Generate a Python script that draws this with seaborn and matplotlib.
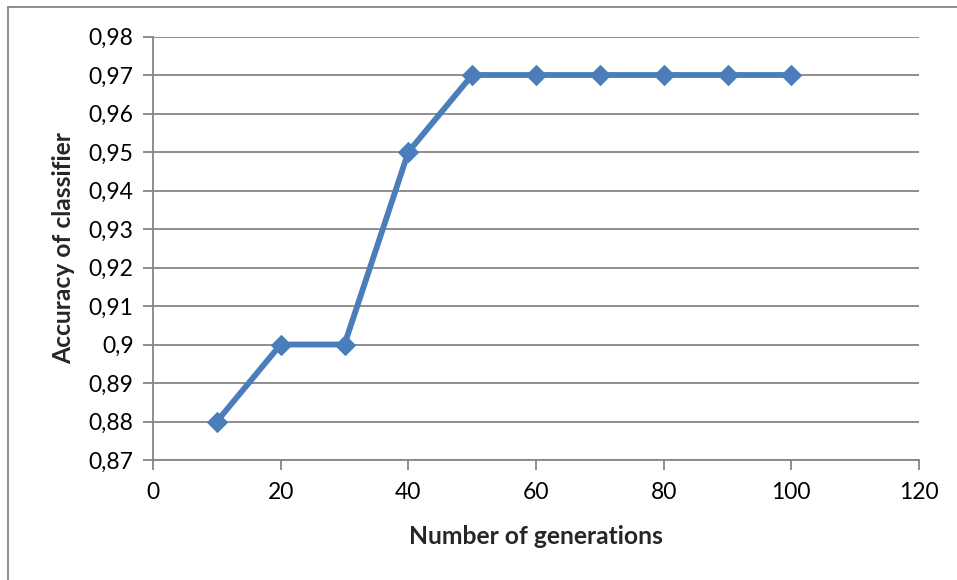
import matplotlib
matplotlib.use("Agg")
import matplotlib.pyplot as plt
from matplotlib.lines import Line2D
import seaborn as sns
import pandas as pd

generations = [10, 20, 30, 40, 50, 60, 70, 80, 90, 100]
accuracy = [0.88, 0.90, 0.90, 0.95, 0.97, 0.97, 0.97, 0.97, 0.97, 0.97]
x_ticks = [0, 20, 40, 60, 80, 100, 120]
y_ticks = [0.87, 0.88, 0.89, 0.90, 0.91, 0.92, 0.93, 0.94, 0.95, 0.96, 0.97, 0.98]
y_tick_labels = ["0,87", "0,88", "0,89", "0,9", "0,91", "0,92", "0,93",
                 "0,94", "0,95", "0,96", "0,97", "0,98"]

sns.set_theme(style="white")
plt.rcParams["font.family"] = ["Lato", "DejaVu Sans"]

df = pd.DataFrame({"gen": generations, "acc": accuracy})

fig = plt.figure(figsize=(9.57, 5.80), dpi=100)
ax = fig.add_axes([153 / 957, 1 - 460 / 580, (919 - 153) / 957, (460 - 36.5) / 580])

line_color = "#4A7EBB"
grid_color = "#868686"

sns.lineplot(data=df, x="gen", y="acc", ax=ax, color=line_color, linewidth=4.2,
             marker="D", markersize=10, markeredgecolor=line_color,
             markerfacecolor=line_color, zorder=3)

ax.set_xlim(0, 120)
ax.set_ylim(0.87, 0.98)
ax.set_xticks(x_ticks)
ax.set_xticklabels([str(t) for t in x_ticks])
ax.set_yticks(y_ticks)
ax.set_yticklabels(y_tick_labels)

ax.yaxis.grid(True, color=grid_color, linewidth=1.3)
ax.xaxis.grid(False)
for side in ["top", "right"]:
    ax.spines[side].set_visible(False)
for side in ["left", "bottom"]:
    ax.spines[side].set_color(grid_color)
    ax.spines[side].set_linewidth(1.3)

ax.tick_params(axis="both", which="major", direction="out", length=7, width=1.3,
               color=grid_color, labelsize=16.5, labelcolor="black")
ax.tick_params(axis="y", pad=7)
ax.tick_params(axis="x", pad=9)
ax.tick_params(left=True, bottom=True)

ax.set_xlabel("Number of generations", fontsize=17.7, fontweight="bold", labelpad=16)
ax.set_ylabel("Accuracy of classifier", fontsize=17.7, fontweight="bold", labelpad=10)

# chart frame (top and left edges)
fig.add_artist(Line2D([8 / 957, 1.0], [1 - 7 / 580, 1 - 7 / 580],
                      transform=fig.transFigure, color=grid_color, linewidth=1.3))
fig.add_artist(Line2D([8 / 957, 8 / 957], [0.0, 1 - 7 / 580],
                      transform=fig.transFigure, color=grid_color, linewidth=1.3))

fig.savefig("out.png", dpi=100)
